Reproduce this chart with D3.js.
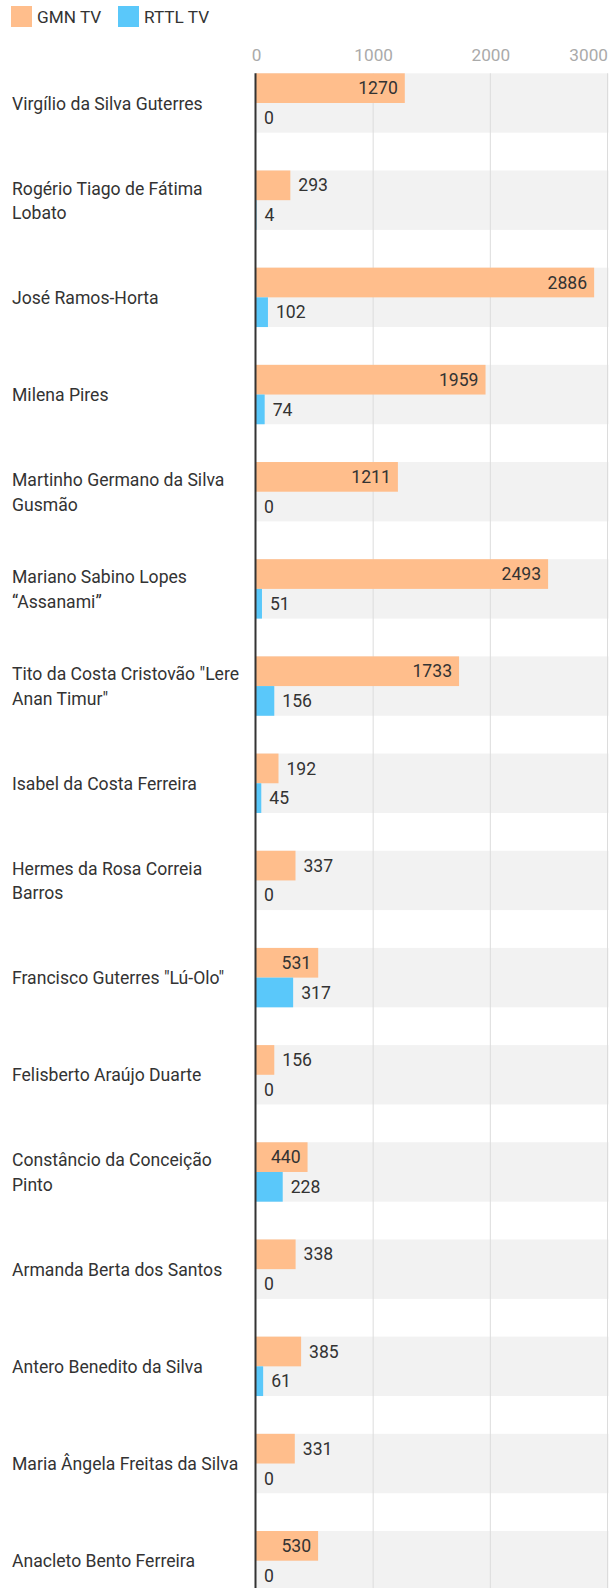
<!DOCTYPE html>
<html>
<head>
<meta charset="utf-8">
<script src="https://cdn.jsdelivr.net/npm/d3@7"></script>
<style>
  body { margin: 0; background: #fff; font-family: Roboto, "Noto Sans", sans-serif; }
  svg text { font-family: Roboto, "Noto Sans", sans-serif; }
</style>
</head>
<body>
<svg id="chart" width="616" height="1588"></svg>
<script>
// candidates, top to bottom
var candidates = [
  "Virgílio da Silva Guterres",
  "Rogério Tiago de Fátima Lobato",
  "José Ramos-Horta",
  "Milena Pires",
  "Martinho Germano da Silva Gusmão",
  "Mariano Sabino Lopes “Assanami”",
  "Tito da Costa Cristovão \"Lere Anan Timur\"",
  "Isabel da Costa Ferreira",
  "Hermes da Rosa Correia Barros",
  "Francisco Guterres \"Lú-Olo\"",
  "Felisberto Araújo Duarte",
  "Constâncio da Conceição Pinto",
  "Armanda Berta dos Santos",
  "Antero Benedito da Silva",
  "Maria Ângela Freitas da Silva",
  "Anacleto Bento Ferreira"
];
var gmnTV = [1270, 293, 2886, 1959, 1211, 2493, 1733, 192, 337, 531, 156, 440, 338, 385, 331, 530];
var rttlTV = [0, 4, 102, 74, 0, 51, 156, 45, 0, 317, 0, 228, 0, 61, 0, 0];
var seriesNames = ["GMN TV", "RTTL TV"];
var seriesColors = ["#ffbe8c", "#5ac8fa"];
var xTicks = [0, 1000, 2000, 3000];

var svg = d3.select("#chart");
var plotLeft = 256, plotRight = 607.5, plotTop = 73.3, step = 97.18, inner = 0.3888;
var fs = "17.6px";

var x = d3.scaleLinear().domain([0, 3000]).range([plotLeft, plotRight]);
var y = d3.scaleBand().domain(candidates)
    .range([plotTop, plotTop + step * (candidates.length - inner)])
    .paddingInner(inner).paddingOuter(0);
var ySub = d3.scaleBand().domain(seriesNames).range([0, y.bandwidth()]);

var rows = candidates.map(function (c, i) {
  return { name: c, values: [gmnTV[i], rttlTV[i]] };
});

// legend
var legend = svg.append("g").selectAll("g").data(seriesNames).enter().append("g")
    .attr("transform", function (d, i) { return "translate(" + [11, 118][i] + ",6)"; });
legend.append("rect").attr("width", 21).attr("height", 21)
    .attr("fill", function (d, i) { return seriesColors[i]; });
legend.append("text").attr("x", 26).attr("y", 10.5).attr("dy", "0.35em")
    .style("font-size", "17.2px").attr("fill", "#333").text(function (d) { return d; });

// grey row bands
svg.append("g").selectAll("rect").data(candidates).enter().append("rect")
    .attr("x", plotLeft).attr("width", plotRight - plotLeft + 1)
    .attr("y", function (d) { return y(d); }).attr("height", y.bandwidth())
    .attr("fill", "#f2f2f2");

// grid lines
svg.append("g").selectAll("line").data(xTicks.slice(1)).enter().append("line")
    .attr("x1", function (d) { return x(d); }).attr("x2", function (d) { return x(d); })
    .attr("y1", plotTop).attr("y2", 1588)
    .attr("stroke", "#dcdcdc").attr("stroke-width", 1);

// tick labels on top
var axis = svg.append("g").attr("transform", "translate(0,64)")
    .call(d3.axisTop(x).tickValues(xTicks).tickFormat(d3.format("d")).tickSize(0).tickPadding(0));
axis.select(".domain").remove();
axis.selectAll("text").style("font-size", "17.2px").attr("fill", "#aaa")
    .attr("dy", "-0.2em")
    .attr("text-anchor", function (d) { return d === 3000 ? "end" : "middle"; });

// bars
var rowG = svg.append("g").selectAll("g").data(rows).enter().append("g")
    .attr("transform", function (d) { return "translate(0," + y(d.name) + ")"; });

rowG.selectAll("rect").data(function (d) { return d.values; }).enter().append("rect")
    .attr("x", x(0))
    .attr("y", function (d, i) { return ySub(seriesNames[i]); })
    .attr("width", function (d) { return x(d) - x(0); })
    .attr("height", ySub.bandwidth())
    .attr("fill", function (d, i) { return seriesColors[i]; });

rowG.selectAll("text.val").data(function (d) { return d.values; }).enter().append("text")
    .attr("class", "val")
    .attr("y", function (d, i) { return ySub(seriesNames[i]) + ySub.bandwidth() / 2; })
    .attr("dy", "0.35em")
    .style("font-size", fs).attr("fill", "#333")
    .text(function (d) { return d; })
    .each(function (d) {
      var t = d3.select(this), w = this.getComputedTextLength(), bw = x(d) - x(0);
      if (bw >= w + 18) {
        t.attr("x", x(d) - 7).attr("text-anchor", "end");
      } else {
        t.attr("x", x(d) + 8).attr("text-anchor", "start");
      }
    });

// category labels, wrapped
var labels = svg.append("g").selectAll("text").data(candidates).enter().append("text")
    .style("font-size", fs).attr("fill", "#333");
labels.each(function (d) {
  var t = d3.select(this), words = d.split(" "), lines = [], line = [];
  var probe = t.append("tspan");
  words.forEach(function (w) {
    line.push(w);
    probe.text(line.join(" "));
    if (probe.node().getComputedTextLength() > 238 && line.length > 1) {
      line.pop();
      lines.push(line.join(" "));
      line = [w];
    }
  });
  lines.push(line.join(" "));
  probe.remove();
  var lh = 24.5, cy = y(d) + y.bandwidth() / 2 + 0.5;
  lines.forEach(function (l, i) {
    t.append("tspan").attr("x", 12)
      .attr("y", cy + (i - (lines.length - 1) / 2) * lh)
      .attr("dy", "0.35em").text(l);
  });
});

// zero axis line
svg.append("line").attr("x1", x(0) - 0.5).attr("x2", x(0) - 0.5)
    .attr("y1", plotTop).attr("y2", 1588)
    .attr("stroke", "#333").attr("stroke-width", 2);
</script>
</body>
</html>
